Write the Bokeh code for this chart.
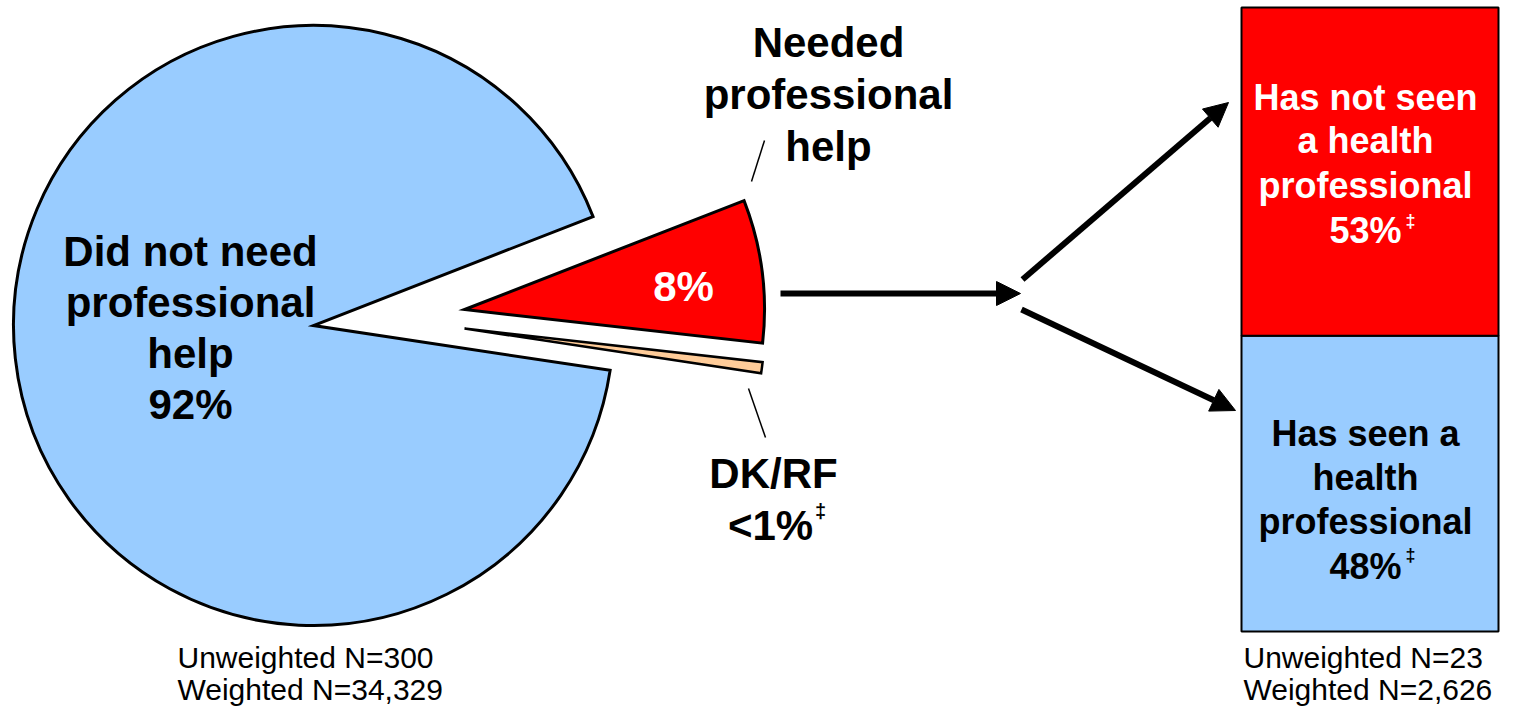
from bokeh.plotting import figure
from bokeh.models import Range1d, Arrow, NormalHead
from bokeh.core.properties import value
from bokeh.embed import file_html
from bokeh.resources import INLINE
import math

# ---------------- data ----------------
pie_categories = ["Did not need professional help", "Needed professional help", "DK/RF"]
pie_shares = [91.7, 7.7, 0.6]          # percent of sample
pie_labels = ["92%", "8%", "<1%"]
pie_colors = ["#99CCFF", "#FF0000", "#FFCC99"]

bar_categories = ["Has seen a health professional", "Has not seen a health professional"]
bar_shares = [47.4, 52.6]              # percent of those who needed help
bar_labels = ["48%", "53%"]
bar_colors = ["#99CCFF", "#FF0000"]

left_notes = ["Unweighted N=300", "Weighted N=34,329"]
right_notes = ["Unweighted N=23", "Weighted N=2,626"]

# ---------------- figure (1 data unit = 1 px, y = 715 - screen y) ----------------
H = 715
W_FIG, H_FIG = 1505, 707
FY0, FY1 = H - H_FIG, H
p = figure(width=W_FIG, height=H_FIG, x_range=Range1d(0, W_FIG), y_range=Range1d(FY0, FY1),
           output_backend="svg", toolbar_location=None, x_axis_type=None, y_axis_type=None,
           min_border=0)
p.grid.visible = False
p.outline_line_color = None
p.background_fill_color = "white"
p.border_fill_color = "white"

BOLD = "Liberation Sans"
REG = "Liberation Sans"

def Y(sy):
    return H - sy

# ---------------- pie ----------------
start0 = -8.6
order = [2, 1, 0]
centers = {0: (313, Y(325)), 1: (464, Y(309)), 2: (464, Y(328))}
ang = start0
for i in order:
    span = pie_shares[i] / 100.0 * 360.0
    cx, cy = centers[i]
    p.wedge(x=[cx], y=[cy], radius=300, start_angle=[math.radians(ang)],
            end_angle=[math.radians(ang + span)], direction="anticlock",
            fill_color=pie_colors[i], line_color="black",
            line_width=3 if i != 2 else 2.5, line_join="miter")
    ang += span

def txt(x, sy, s, size, color="black", bold=True, align="center", font=BOLD):
    p.text(x=[x], y=[Y(sy)], text=[s], text_font=value(font), text_font_size=f"{size}px",
           text_font_style="bold" if bold else "normal", text_color=color,
           text_align=align, text_baseline="middle")

for t, sy in zip(["Did not need", "professional", "help", pie_labels[0]], [251, 302, 353, 404]):
    txt(190, sy, t, 42)
for t, sy in zip(["Needed", "professional", "help"], [42, 94, 146]):
    txt(828, sy, t, 42)
txt(683, 286, pie_labels[1], 42, color="white")
txt(773, 473, "DK/RF", 42)
txt(770, 525, pie_labels[2], 42)
txt(820, 510, "\u2021", 20)

p.segment(x0=[751, 748], y0=[Y(181), Y(388)], x1=[764, 765], y1=[Y(140), Y(437)],
          line_color="black", line_width=1.5)

# ---------------- arrows ----------------
for (x0, y0, x1, y1) in [(780, 293, 1020, 293), (1022, 279, 1228, 102), (1021, 309, 1235, 410)]:
    p.add_layout(Arrow(end=NormalHead(size=24, fill_color="black", line_color="black", line_width=1),
                       x_start=x0, y_start=Y(y0), x_end=x1, y_end=Y(y1),
                       line_color="black", line_width=6))

# ---------------- stacked bar ----------------
bar_bottom_sy, bar_top_sy = 631, 7
scale = (bar_bottom_sy - bar_top_sy) / 100.0
start = -(Y(bar_bottom_sy) - FY0) / scale
end = 100 + (FY1 - Y(bar_top_sy)) / scale
p.extra_y_ranges = {"bar": Range1d(start, end)}
bottoms, tops, acc = [], [], 0.0
for v in bar_shares:
    bottoms.append(acc)
    acc += v
    tops.append(acc)
p.quad(left=[1241] * 2, right=[1498] * 2, bottom=bottoms, top=tops, fill_color=bar_colors,
       line_color="black", line_width=2, y_range_name="bar")

for t, sy in zip(["Has not seen", "a health", "professional", bar_labels[1]], [97, 140, 185, 230]):
    txt(1365, sy, t, 36, color="white")
txt(1410, 220, "\u2021", 18, color="white")
for t, sy in zip(["Has seen a", "health", "professional", bar_labels[0]], [433, 477, 521, 566]):
    txt(1365, sy, t, 36)
txt(1410, 554, "\u2021", 18)

# ---------------- notes ----------------
for t, sy in zip(left_notes, [657, 689]):
    txt(177, sy, t, 30, bold=False, align="left", font=REG)
for t, sy in zip(right_notes, [657, 689]):
    txt(1243, sy, t, 30, bold=False, align="left", font=REG)

open("out.html", "w").write(file_html(p, INLINE))
